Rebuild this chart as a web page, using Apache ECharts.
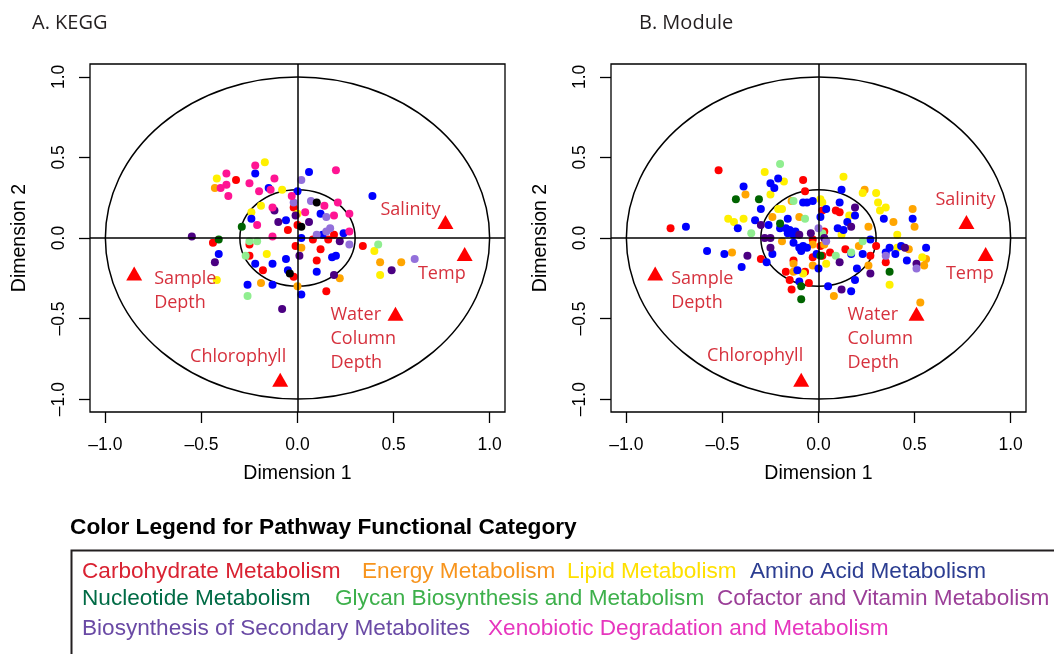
<!DOCTYPE html>
<html>
<head>
<meta charset="utf-8">
<script src="https://cdn.jsdelivr.net/npm/echarts@6/dist/echarts.min.js"></script>
<style>
html,body{margin:0;padding:0;background:#fff;}
#chart{width:1054px;height:654px;}
</style>
</head>
<body>
<div id="chart"></div>
<script>
// ---------- DATA ----------
const categories = [
  'Carbohydrate Metabolism', 'Energy Metabolism', 'Lipid Metabolism', 'Amino Acid Metabolism',
  'Nucleotide Metabolism', 'Glycan Biosynthesis and Metabolism', 'Cofactor and Vitamin Metabolism',
  'Biosynthesis of Secondary Metabolites', 'Xenobiotic Degradation and Metabolism', 'Other'
];
const panelTitles = ['A. KEGG', 'B. Module'];
const axisNames = ['Dimension 1', 'Dimension 2'];
const tickValues = [-1.0, -0.5, 0.0, 0.5, 1.0];
const circleRadii = [1.0, 0.3];
const envNames = ['Salinity', 'Temp', 'Sample\nDepth', 'Water\nColumn\nDepth', 'Chlorophyll'];
const envVectors = [[0.77, 0.10], [0.87, -0.10], [-0.85, -0.22], [0.51, -0.47], [-0.09, -0.88]];
const legendTitle = 'Color Legend for Pathway Functional Category';

// [dim1, dim2, category index]
const keggPoints = [
  [-0.17,0.47,2],[-0.22,0.45,8],[-0.22,0.40,3],[-0.37,0.40,8],[-0.32,0.36,0],[-0.42,0.37,2],
  [-0.12,0.37,8],[-0.25,0.34,8],[-0.37,0.33,8],[-0.43,0.31,1],[-0.40,0.31,8],[-0.15,0.31,3],
  [-0.14,0.30,8],[-0.20,0.29,8],[-0.08,0.30,2],[-0.36,0.26,8],[0.00,0.29,3],[0.02,0.36,7],
  [0.06,0.41,3],[-0.03,0.26,8],[-0.02,0.22,7],[0.07,0.23,7],[-0.19,0.20,2],[-0.13,0.19,8],
  [-0.12,0.17,6],[-0.02,0.19,0],[-0.24,0.16,2],[0.04,0.16,8],[0.00,0.15,2],[-0.01,0.14,6],
  [-0.24,0.12,3],[-0.06,0.11,3],[-0.10,0.10,6],[0.06,0.10,6],[0.00,0.08,0],[0.02,0.07,9],
  [-0.29,0.07,4],[-0.21,0.08,8],[-0.05,0.05,0],[-0.55,0.01,6],[-0.41,-0.01,4],[-0.44,-0.03,0],
  [-0.13,0.01,8],[0.02,0.00,3],[-0.25,-0.02,5],[-0.21,-0.02,5],[-0.25,-0.04,0],[-0.01,-0.05,0],
  [0.02,-0.06,1],[-0.41,-0.10,3],[-0.16,-0.10,2],[-0.27,-0.11,5],[-0.25,-0.11,0],[0.01,-0.11,6],
  [-0.43,-0.15,6],[-0.06,-0.13,3],[-0.22,-0.16,3],[-0.13,-0.16,3],[-0.18,-0.20,0],[-0.05,-0.20,3],
  [-0.04,-0.22,9],[-0.02,-0.24,0],[-0.42,-0.26,2],[-0.26,-0.29,3],[-0.19,-0.28,1],[-0.13,-0.29,3],
  [0.00,-0.30,1],[0.02,-0.35,3],[-0.26,-0.36,5],[-0.08,-0.44,6],
  [0.20,0.42,8],[0.10,0.22,9],[0.14,0.20,8],[0.21,0.22,8],[0.39,0.26,3],[0.12,0.15,3],
  [0.15,0.13,7],[0.19,0.14,8],[0.27,0.15,8],[0.17,0.06,7],[0.15,0.04,7],[0.10,0.02,7],
  [0.13,0.02,3],[0.19,0.02,0],[0.24,0.03,3],[0.27,0.04,8],[0.08,-0.01,0],[0.16,-0.01,0],
  [0.22,-0.02,6],[0.27,-0.04,7],[0.34,-0.05,0],[0.42,-0.04,5],[0.40,-0.08,2],[0.12,-0.07,0],
  [0.20,-0.11,3],[0.18,-0.12,3],[0.10,-0.14,0],[0.61,-0.13,7],[0.54,-0.15,1],[0.43,-0.15,1],
  [0.49,-0.20,6],[0.43,-0.23,2],[0.10,-0.21,3],[0.19,-0.23,6],[0.22,-0.25,1],[0.15,-0.33,0]
];

const modulePoints = [
  [-0.20,0.46,5],[-0.52,0.42,0],[-0.28,0.41,2],[-0.21,0.37,3],[-0.18,0.35,2],[-0.08,0.36,0],
  [-0.25,0.34,3],[-0.23,0.31,3],[-0.39,0.32,3],[-0.25,0.27,2],[-0.07,0.29,0],[-0.38,0.27,1],
  [-0.43,0.24,4],[-0.31,0.24,4],[-0.14,0.23,1],[-0.13,0.23,5],[-0.08,0.22,3],[-0.06,0.22,3],
  [-0.03,0.23,3],[0.01,0.24,2],[0.02,0.22,2],[-0.30,0.18,3],[-0.21,0.18,2],[-0.19,0.18,2],
  [0.02,0.17,0],[0.04,0.18,3],[0.09,0.17,0],[0.11,0.22,3],[-0.24,0.13,1],[-0.10,0.13,1],
  [-0.07,0.12,5],[0.01,0.13,3],[-0.16,0.12,3],[-0.47,0.12,2],[-0.44,0.10,2],[-0.39,0.12,2],
  [-0.33,0.11,3],[-0.77,0.06,0],[-0.69,0.07,3],[-0.42,0.06,3],[-0.35,0.03,5],[-0.30,0.08,6],
  [-0.26,0.08,3],[-0.20,0.09,4],[-0.20,0.06,3],[-0.17,0.06,3],[-0.15,0.05,3],[-0.12,0.04,3],
  [-0.16,0.03,3],[-0.04,0.03,6],[0.00,0.06,7],[0.03,0.04,0],[0.10,0.06,3],[-0.28,0.00,6],
  [-0.25,0.00,6],[-0.13,0.02,3],[-0.10,0.02,6],[-0.03,-0.01,0],[0.03,0.00,6],[0.04,-0.02,7],
  [-0.19,-0.02,1],[-0.13,-0.03,3],[-0.10,-0.06,3],[-0.08,-0.05,3],[-0.06,-0.06,3],[-0.03,-0.04,1],
  [0.01,-0.05,0],[0.03,-0.04,1],[-0.09,-0.08,3],[-0.25,-0.06,6],[-0.24,-0.10,3],[-0.58,-0.08,3],
  [-0.49,-0.10,3],[-0.45,-0.09,1],[-0.37,-0.11,6],[-0.30,-0.13,0],[-0.27,-0.15,3],[-0.40,-0.18,3],
  [-0.03,-0.12,0],[-0.01,-0.10,3],[0.02,-0.11,0],[0.06,-0.09,0],[0.01,-0.11,4],[0.09,-0.11,5],
  [-0.13,-0.14,0],[-0.13,-0.16,1],[-0.11,-0.20,3],[-0.17,-0.21,0],[-0.13,-0.21,1],[-0.08,-0.22,2],
  [-0.07,-0.21,0],[-0.03,-0.17,1],[0.00,-0.19,3],[0.04,-0.16,2],[0.11,-0.15,6],[-0.15,-0.26,0],
  [-0.10,-0.27,3],[-0.05,-0.28,0],[-0.14,-0.32,0],[-0.09,-0.30,4],[0.05,-0.30,3],[0.08,-0.36,1],
  [-0.09,-0.38,4],
  [0.13,0.38,2],[0.12,0.30,3],[0.24,0.30,1],[0.23,0.28,2],[0.30,0.28,2],[0.11,0.16,0],
  [0.19,0.19,6],[0.31,0.22,2],[0.35,0.19,2],[0.32,0.17,2],[0.49,0.18,1],[0.16,0.14,2],
  [0.19,0.14,3],[0.15,0.10,3],[0.17,0.07,6],[0.13,0.05,3],[0.26,0.07,1],[0.34,0.12,3],
  [0.39,0.10,1],[0.49,0.12,3],[0.50,0.07,1],[0.41,0.02,2],[0.02,0.03,5],[0.12,0.02,2],
  [0.23,-0.02,5],[0.27,-0.01,3],[0.21,-0.05,1],[0.30,-0.05,0],[0.14,-0.07,0],[0.17,-0.09,5],
  [0.17,-0.10,3],[0.23,-0.10,3],[0.27,-0.11,0],[0.35,-0.09,3],[0.37,-0.06,3],[0.41,-0.06,2],
  [0.43,-0.05,3],[0.45,-0.06,6],[0.47,-0.07,1],[0.56,-0.06,3],[0.35,-0.11,7],[0.40,-0.10,3],
  [0.35,-0.15,0],[0.46,-0.14,3],[0.51,-0.16,6],[0.51,-0.19,7],[0.54,-0.12,2],[0.56,-0.13,1],
  [0.55,-0.17,1],[0.20,-0.19,3],[0.27,-0.22,6],[0.37,-0.21,4],[0.19,-0.26,3],[0.37,-0.29,2],
  [0.12,-0.32,6],[0.17,-0.33,3],[0.53,-0.40,1],[0.26,-0.17,1]
];

// ---------- STYLE / LAYOUT ----------
const pointColors = ['#FF0000','#FFA500','#FFF000','#0000FF','#006400','#90EE90','#4B0082','#9370DB','#FF1493','#000000'];
const legendColors = ['#D92232','#F7941D','#FFE000','#2B3D91','#006B45','#3DB04B','#9B3F98','#6A4AA5','#E636BE'];
const labelRed = '#D6313D';
const grids = [{left: 90, top: 64, width: 415, height: 348}, {left: 611, top: 64, width: 415, height: 348}];
// label placement for each env vector, per panel: [align, dx, dy]
const envLabelLayout = [
  [['right',-5,-12],['right',1,20],['left',20,17],['left',-65,25],['right',6,-23]],
  [['right',29,-22],['right',8,20],['left',16,17],['left',-69,25],['right',2,-24]]
];
const legendRows = [[0,1,2,3],[4,5,6],[7,8]];
const legendRowX = [[82,362,567,750],[82,335,717],[82,488]];
const legendRowY = [572,599,629];

const fmt = v => (v < 0 ? '\u2013' : '') + Math.abs(v).toFixed(1);
const axisFont = 'Liberation Sans';
const labelFont = 'Open Sans';

const xAxes = [], yAxes = [], series = [];
grids.forEach((g, p) => {
  xAxes.push({
    gridIndex: p, type: 'value', min: -1.08, max: 1.08,
    axisLine: {show: false, onZero: false}, splitLine: {show: false},
    axisTick: {show: true, length: 11, lineStyle: {color: '#000', width: 1.3}, customValues: tickValues},
    axisLabel: {customValues: tickValues, formatter: fmt, fontSize: 17.5, fontFamily: axisFont, color: '#000', margin: 24},
    name: axisNames[0], nameLocation: 'middle', nameGap: 52,
    nameTextStyle: {fontSize: 19.5, fontFamily: axisFont, color: '#000'}
  });
  yAxes.push({
    gridIndex: p, type: 'value', min: -1.08, max: 1.08,
    axisLine: {show: false, onZero: false}, splitLine: {show: false},
    axisTick: {show: true, length: 11, lineStyle: {color: '#000', width: 1.3}, customValues: tickValues},
    axisLabel: {customValues: tickValues, formatter: fmt, rotate: 90, fontSize: 17.5, fontFamily: axisFont, color: '#000', margin: 22},
    name: axisNames[1], nameLocation: 'middle', nameGap: 60,
    nameTextStyle: {fontSize: 19.5, fontFamily: axisFont, color: '#000'}
  });
  // reference circles
  series.push({
    type: 'custom', xAxisIndex: p, yAxisIndex: p, silent: true, z: 1,
    data: circleRadii.map(r => [0, 0, r]),
    renderItem: (params, api) => {
      const c = api.coord([api.value(0), api.value(1)]);
      const r = api.value(2);
      const ex = api.coord([api.value(0) + r, api.value(1)]);
      const ey = api.coord([api.value(0), api.value(1) + r]);
      const rx = ex[0] - c[0], ry = c[1] - ey[1];
      return {
        type: 'path',
        shape: {pathData: `M${c[0]-rx} ${c[1]} A${rx} ${ry} 0 1 0 ${c[0]+rx} ${c[1]} A${rx} ${ry} 0 1 0 ${c[0]-rx} ${c[1]} Z`},
        style: {fill: 'none', stroke: '#000', lineWidth: 1.5}
      };
    }
  });
  // zero lines
  series.push({
    type: 'scatter', xAxisIndex: p, yAxisIndex: p, data: [], silent: true, z: 1,
    markLine: {
      silent: true, symbol: 'none', animation: false,
      label: {show: false},
      lineStyle: {color: '#000', width: 1.5, type: 'solid'},
      emphasis: {disabled: true},
      data: [{xAxis: 0}, {yAxis: 0}]
    }
  });
  const pts = p === 0 ? keggPoints : modulePoints;
  categories.forEach((cat, c) => {
    const d = pts.filter(q => q[2] === c).map(q => [q[0], q[1]]);
    if (!d.length) return;
    series.push({
      type: 'scatter', name: cat, xAxisIndex: p, yAxisIndex: p, z: 3,
      symbol: 'circle', symbolSize: 8, data: d,
      itemStyle: {color: pointColors[c], opacity: 1, borderWidth: 0}
    });
  });
  series.push({
    type: 'scatter', xAxisIndex: p, yAxisIndex: p, z: 4,
    symbol: 'triangle', symbolSize: [16, 14],
    itemStyle: {color: '#FF0000', opacity: 1},
    data: envVectors.map((v, i) => {
      const L = envLabelLayout[p][i];
      return {
        value: v, name: envNames[i],
        label: {
          show: true, position: 'inside', formatter: envNames[i],
          align: L[0], verticalAlign: 'middle', offset: [L[1], L[2]],
          color: labelRed, fontSize: 18, fontFamily: labelFont, lineHeight: 24
        }
      };
    })
  });
});

const graphics = [];
panelTitles.forEach((t, i) => {
  graphics.push({type: 'text', x: i === 0 ? 32 : 639, y: 23,
    style: {text: t, fill: '#231F20', fontSize: 20, fontFamily: labelFont, verticalAlign: 'middle', align: 'left'}});
});
graphics.push({type: 'text', x: 70, y: 528,
  style: {text: legendTitle, fill: '#000', fontSize: 22.7, fontWeight: 'bold', fontFamily: axisFont, verticalAlign: 'middle', align: 'left'}});
graphics.push({type: 'rect', shape: {x: 71.5, y: 550.5, width: 1100, height: 200},
  style: {fill: 'none', stroke: '#231F20', lineWidth: 2}});
legendRows.forEach((row, r) => {
  row.forEach((c, k) => {
    graphics.push({type: 'text', x: legendRowX[r][k], y: legendRowY[r],
      style: {text: categories[c], fill: legendColors[c], fontSize: 22.6, fontFamily: axisFont, verticalAlign: 'middle', align: 'left'}});
  });
});

const chart = echarts.init(document.getElementById('chart'), null, {renderer: 'canvas'});
chart.setOption({
  animation: false,
  backgroundColor: '#fff',
  grid: grids.map(g => Object.assign({show: true, borderColor: '#000', borderWidth: 1.3, backgroundColor: 'transparent'}, g)),
  xAxis: xAxes,
  yAxis: yAxes,
  series: series,
  graphic: graphics
});
</script>
</body>
</html>
